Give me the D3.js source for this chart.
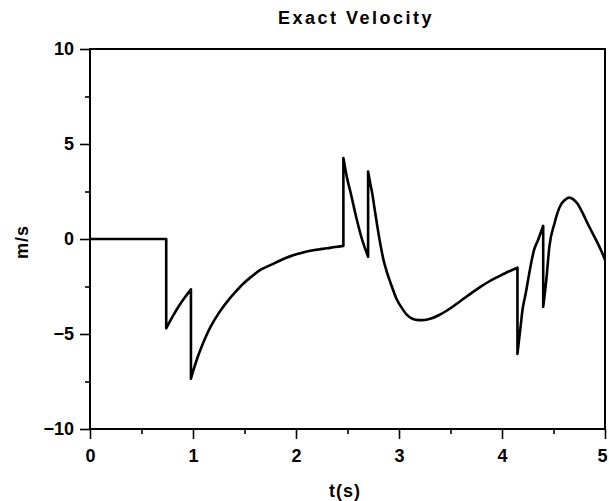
<!DOCTYPE html>
<html>
<head>
<meta charset="utf-8">
<script src="https://cdn.jsdelivr.net/npm/d3@7"></script>
<style>
  body { margin: 0; background: #fff; }
  text { font-family: "Liberation Sans", Arial, sans-serif; font-weight: bold; fill: #000; }
</style>
</head>
<body>
<div id="chart"></div>
<script>
// Velocity; repeated t values are the jumps
const timeS = [
    0, 0.74, 0.74, 0.80, 0.86, 0.92, 0.98, 0.98,
    1.01, 1.04, 1.07, 1.12, 1.17, 1.25, 1.33, 1.41, 1.49, 1.57, 1.65, 1.74, 1.82, 1.90, 1.98,
    2.06, 2.14, 2.22, 2.30, 2.38, 2.46, 2.46,
    2.50, 2.53, 2.58, 2.64, 2.70, 2.70,
    2.72, 2.74, 2.76, 2.79, 2.82, 2.85, 2.88, 2.92, 2.98, 3.03, 3.08, 3.13, 3.19, 3.25, 3.31,
    3.39, 3.47, 3.55, 3.63, 3.71, 3.79, 3.87, 3.96, 4.05, 4.15, 4.15,
    4.18, 4.20, 4.23, 4.28, 4.31, 4.35, 4.40, 4.40,
    4.43, 4.46, 4.51, 4.54, 4.57, 4.61, 4.65, 4.69, 4.73, 4.78, 4.83, 4.88, 4.93, 4.97, 5.0
];
const velocity = [
    0, 0, -4.7, -4.1, -3.55, -3.08, -2.65, -7.35,
    -6.8, -6.3, -5.86, -5.2, -4.63, -3.9, -3.31, -2.8, -2.34, -1.97, -1.64, -1.4, -1.2, -1.0, -0.84,
    -0.72, -0.62, -0.55, -0.49, -0.42, -0.36, 4.26,
    3.1, 2.45, 1.25, 0.0, -0.93, 3.55,
    2.95, 2.41, 1.7, 0.65, -0.3, -1.11, -1.7, -2.34, -3.2, -3.65, -4.01, -4.2, -4.27, -4.26, -4.19,
    -4.0, -3.75, -3.45, -3.13, -2.82, -2.52, -2.25, -1.99, -1.75, -1.51, -6.05,
    -4.63, -3.7, -2.87, -1.35, -0.6, -0.05, 0.69, -3.57,
    -2.16, -0.4, 0.83, 1.4, 1.79, 2.05, 2.18, 2.1, 1.88, 1.4, 0.83, 0.3, -0.23, -0.7, -1.1
];
const xTicks = [0, 1, 2, 3, 4, 5];
const xMinor = [0.5, 1.5, 2.5, 3.5, 4.5];
const yTicks = [-10, -5, 0, 5, 10];
const yMinor = [-7.5, -2.5, 2.5, 7.5];

const data = timeS.map((t, i) => ({t: t, v: velocity[i]}));

// split into smooth pieces wherever t repeats (a jump)
const pieces = [[data[0]]];
for (let i = 1; i < data.length; i++) {
    if (data[i].t === data[i - 1].t) pieces.push([]);
    pieces[pieces.length - 1].push(data[i]);
}

let width = 609,
    height = 501;
let margin = {top: 49, bottom: 72, left: 90, right: 4};

const svg = d3.select('#chart')
    .append('svg')
    .attr('width', width)
    .attr('height', height);

const x = d3.scaleLinear()
    .domain([0, 5])
    .range([margin.left, width - margin.right]);

const y = d3.scaleLinear()
    .domain([-10, 10])
    .range([height - margin.bottom, margin.top]);

// minor ticks
svg.append('g')
    .attr('transform', `translate(0,${y(-10)})`)
    .call(d3.axisBottom(x).tickValues(xMinor).tickSize(5).tickFormat(''))
    .call(g => g.select('.domain').remove());

svg.append('g')
    .attr('transform', `translate(${x(0)},0)`)
    .call(d3.axisLeft(y).tickValues(yMinor).tickSize(5).tickFormat(''))
    .call(g => g.select('.domain').remove());

// major ticks with labels
svg.append('g')
    .attr('transform', `translate(0,${y(-10)})`)
    .call(d3.axisBottom(x).tickValues(xTicks).tickSize(10).tickPadding(10).tickFormat(d3.format('d')))
    .call(g => g.select('.domain').remove())
    .call(g => g.selectAll('text').style('font-size', '18px').attr('font-family', null)
        .attr('dx', d => d === 5 ? -3 : 0));

svg.append('g')
    .attr('transform', `translate(${x(0)},0)`)
    .call(d3.axisLeft(y).tickValues(yTicks).tickSize(10).tickPadding(6)
        .tickFormat(d => d < 0 ? '\u2212' + Math.abs(d) : d))
    .call(g => g.select('.domain').remove())
    .call(g => g.selectAll('text').style('font-size', '18px').attr('font-family', null));

svg.selectAll('.tick line')
    .attr('stroke', '#000')
    .attr('stroke-width', 1.6);

// frame
svg.append('rect')
    .attr('x', x(0))
    .attr('y', y(10))
    .attr('width', x(5) - x(0))
    .attr('height', y(-10) - y(10))
    .attr('fill', 'none')
    .attr('stroke', '#000')
    .attr('stroke-width', 2);

// velocity curve: smooth pieces joined by vertical jumps
const line = d3.line()
    .x(d => x(d.t))
    .y(d => y(d.v))
    .curve(d3.curveMonotoneX);

const pathD = pieces
    .map((p, i) => {
        const s = line(p);
        return i === 0 ? s : 'L' + s.slice(1);
    })
    .join('');

svg.append('path')
    .attr('fill', 'none')
    .attr('stroke', '#000')
    .attr('stroke-width', 2.6)
    .attr('stroke-linejoin', 'round')
    .attr('d', pathD);

// title
svg.append('text')
    .attr('x', 356)
    .attr('y', 24)
    .style('text-anchor', 'middle')
    .style('font-size', '18px')
    .style('letter-spacing', '2.5px')
    .text('Exact Velocity');

// x-axis label
svg.append('text')
    .attr('x', 345)
    .attr('y', 497)
    .style('text-anchor', 'middle')
    .style('font-size', '18px')
    .style('letter-spacing', '1px')
    .text('t(s)');

// y-axis label
svg.append('text')
    .attr('x', -242)
    .attr('y', 28)
    .attr('transform', 'rotate(-90)')
    .style('text-anchor', 'middle')
    .style('font-size', '18px')
    .style('letter-spacing', '1px')
    .text('m/s');
</script>
</body>
</html>
